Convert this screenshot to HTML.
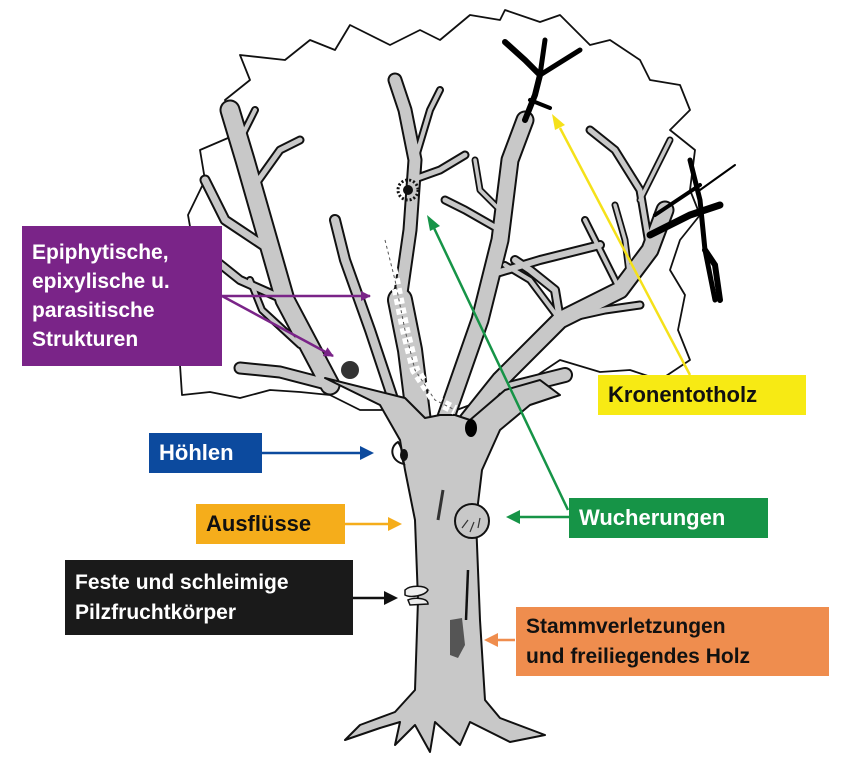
<!DOCTYPE html>
<html><head><meta charset="utf-8"><style>
body{margin:0;width:852px;height:763px;background:#fff;overflow:hidden;position:relative;font-family:"Liberation Sans",sans-serif}
.b{position:absolute;font-weight:bold;font-size:21px;line-height:26px;box-sizing:border-box;padding:0 10px;display:flex;flex-direction:column;justify-content:center;white-space:nowrap}
</style></head><body>
<svg width="852" height="763" style="position:absolute;left:0;top:0">
<defs>
<marker id="mp" markerWidth="10" markerHeight="10" refX="9" refY="5" orient="auto" markerUnits="userSpaceOnUse" viewBox="0 0 10 10"><path d="M0,0L10,5L0,10z" fill="#7a2488"/></marker>
</defs>
<path d="M182,395 L180,365 L188,330 L178,290 L195,255 L188,215 L205,180 L200,150 L235,135 L225,100 L250,80 L240,55 L285,60 L310,40 L335,50 L350,25 L390,45 L420,30 L440,40 L470,15 L500,20 L505,10 L540,22 L560,15 L590,45 L610,40 L640,60 L650,80 L680,85 L690,110 L670,130 L695,150 L690,190 L700,215 L680,240 L670,270 L685,295 L678,330 L690,360 L660,380 L630,370 L600,372 L560,360 L530,380 L500,400 L470,405 L430,420 L390,410 L360,410 L330,395 L300,392 L270,390 L240,398 L210,392 Z" fill="#fff" stroke="#111" stroke-width="1.8" stroke-linejoin="round"/>
<g fill="none" stroke-linecap="round" stroke-linejoin="round" stroke="#111">
<path d="M330,385 L285,300 L265,230 L245,160 L230,110" stroke-width="21"/>
<path d="M270,250 L225,220 L205,180" stroke-width="11"/>
<path d="M285,300 L240,280 L215,260" stroke-width="10"/>
<path d="M255,185 L280,150 L300,140" stroke-width="9"/>
<path d="M240,140 L255,110" stroke-width="8"/>
<path d="M330,385 L280,372 L240,368" stroke-width="13"/>
<path d="M300,345 L262,310 L250,280" stroke-width="8"/>
<path d="M395,405 L370,330 L345,260 L335,220" stroke-width="12"/>
<path d="M400,300 L410,230 L415,160 L405,110 L395,80" stroke-width="15"/>
<path d="M412,180 L440,170 L465,155" stroke-width="9"/>
<path d="M415,160 L430,110 L440,90" stroke-width="8"/>
<path d="M420,430 L410,350 L400,300" stroke-width="26"/>
<path d="M445,420 L480,320 L500,240 L510,160 L525,120" stroke-width="19"/>
<path d="M490,275 L540,260 L600,245" stroke-width="10"/>
<path d="M500,230 L465,210 L445,200" stroke-width="9"/>
<path d="M500,210 L480,190 L475,160" stroke-width="7"/>
<path d="M460,430 L500,380 L560,320 L620,290 L650,250 L665,210" stroke-width="19"/>
<path d="M560,320 L555,290 L530,270 L515,260" stroke-width="10"/>
<path d="M560,320 L605,310 L640,305" stroke-width="9"/>
<path d="M560,320 L530,280 L505,265" stroke-width="8"/>
<path d="M620,290 L600,250 L585,220" stroke-width="8"/>
<path d="M630,280 L625,240 L615,205" stroke-width="7"/>
<path d="M650,250 L640,190 L615,150 L590,130" stroke-width="9"/>
<path d="M640,200 L660,160 L670,140" stroke-width="7"/>
<path d="M505,390 L545,380 L565,375" stroke-width="16"/>
</g>
<g fill="none" stroke="#c8c8c8" stroke-linecap="round" stroke-linejoin="round">
<path d="M330,385 L285,300 L265,230 L245,160 L230,110" stroke-width="17"/>
<path d="M270,250 L225,220 L205,180" stroke-width="7"/>
<path d="M285,300 L240,280 L215,260" stroke-width="6"/>
<path d="M255,185 L280,150 L300,140" stroke-width="5"/>
<path d="M240,140 L255,110" stroke-width="4"/>
<path d="M330,385 L280,372 L240,368" stroke-width="9"/>
<path d="M300,345 L262,310 L250,280" stroke-width="4"/>
<path d="M395,405 L370,330 L345,260 L335,220" stroke-width="8"/>
<path d="M400,300 L410,230 L415,160 L405,110 L395,80" stroke-width="11"/>
<path d="M412,180 L440,170 L465,155" stroke-width="5"/>
<path d="M415,160 L430,110 L440,90" stroke-width="4"/>
<path d="M420,430 L410,350 L400,300" stroke-width="22"/>
<path d="M445,420 L480,320 L500,240 L510,160 L525,120" stroke-width="15"/>
<path d="M490,275 L540,260 L600,245" stroke-width="6"/>
<path d="M500,230 L465,210 L445,200" stroke-width="5"/>
<path d="M500,210 L480,190 L475,160" stroke-width="3.5"/>
<path d="M460,430 L500,380 L560,320 L620,290 L650,250 L665,210" stroke-width="15"/>
<path d="M560,320 L555,290 L530,270 L515,260" stroke-width="6"/>
<path d="M560,320 L605,310 L640,305" stroke-width="5"/>
<path d="M560,320 L530,280 L505,265" stroke-width="4"/>
<path d="M620,290 L600,250 L585,220" stroke-width="4"/>
<path d="M630,280 L625,240 L615,205" stroke-width="3.5"/>
<path d="M650,250 L640,190 L615,150 L590,130" stroke-width="5"/>
<path d="M640,200 L660,160 L670,140" stroke-width="3.5"/>
<path d="M505,390 L545,380 L565,375" stroke-width="12"/>
</g>
<path d="M325,378 L380,405 L400,440 L405,470 L415,520 L418,600 L415,690 L395,712 L360,725 L345,740 L380,728 L400,722 L395,745 L415,725 L430,752 L435,722 L460,745 L470,722 L510,742 L545,735 L500,718 L485,700 L480,620 L476,520 L482,470 L500,430 L530,405 L560,395 L540,380 L505,390 L470,420 L455,415 L440,415 L425,418 L405,398 Z" fill="#c8c8c8" stroke="#111" stroke-width="2" stroke-linejoin="round"/>
<g stroke="#000" fill="none" stroke-linecap="round">
<path d="M505,42 L525,60 L540,75 L535,95 L525,120" stroke-width="6"/>
<path d="M545,40 L540,75 L580,50" stroke-width="5"/>
<path d="M530,100 L550,108" stroke-width="4"/>
<path d="M650,235 L690,215 L720,205" stroke-width="7"/>
<path d="M690,160 L700,200 L705,250 L715,300" stroke-width="5"/>
<path d="M700,190 L735,165" stroke-width="2"/>
<path d="M705,250 L715,265 L720,300" stroke-width="6"/>
<path d="M655,215 L700,185" stroke-width="4"/>
</g>
<ellipse cx="471" cy="428" rx="6" ry="9" fill="#000"/>
<path d="M398,442 C388,448 392,462 404,464 C400,455 404,450 398,442Z" fill="#fff" stroke="#111" stroke-width="2"/>
<ellipse cx="404" cy="455" rx="4" ry="6" fill="#111"/>
<circle cx="472" cy="521" r="17" fill="#c8c8c8" stroke="#111" stroke-width="2"/>
<path d="M462,528 l6,-8 M470,532 l4,-10 M478,528 l2,-10" stroke="#333" stroke-width="1.2"/>
<path d="M443,490 L438,520" stroke="#333" stroke-width="3"/>
<path d="M468,570 L466,620" stroke="#111" stroke-width="2.5"/>
<path d="M450,620 L462,618 L465,645 L458,658 L450,655 Z" fill="#555"/>
<path d="M405,590 C410,585 425,585 428,590 C425,596 410,598 405,595Z M408,600 C415,597 428,598 428,604 L410,605Z" fill="#eee" stroke="#111" stroke-width="1.5"/>
<circle cx="350" cy="370" r="9" fill="#333"/>
<circle cx="408" cy="190" r="10" fill="none" stroke="#111" stroke-width="3" stroke-dasharray="2 2"/>
<circle cx="408" cy="190" r="5" fill="#111"/>
<path d="M385,240 L395,280 L405,330 L415,370 L435,400 L455,410" stroke="#fff" stroke-width="10" fill="none" stroke-dasharray="6 4"/>
<path d="M385,240 L395,280 L405,330 L415,370 L435,400 L455,410" stroke="#555" stroke-width="1" fill="none" stroke-dasharray="3 3"/>
<g stroke-width="2.5" fill="none">
<line x1="222" y1="296" x2="370" y2="296" stroke="#7a2488" marker-end="url(#mp)"/>
<line x1="222" y1="296" x2="333" y2="356" stroke="#7a2488" marker-end="url(#mp)"/>
</g>
<line x1="262" y1="453" x2="362" y2="453" stroke="#0c4a9e" stroke-width="2.5"/><path d="M360,446 L374,453 L360,460z" fill="#0c4a9e"/>
<line x1="345" y1="524" x2="390" y2="524" stroke="#f5ad1b" stroke-width="2.5"/><path d="M388,517 L402,524 L388,531z" fill="#f5ad1b"/>
<line x1="353" y1="598" x2="386" y2="598" stroke="#111" stroke-width="2.5"/><path d="M384,591 L398,598 L384,605z" fill="#111"/>
<line x1="569" y1="517" x2="518" y2="517" stroke="#169447" stroke-width="2.5"/><path d="M520,510 L506,517 L520,524z" fill="#169447"/>
<line x1="568" y1="510" x2="434" y2="228" stroke="#169447" stroke-width="2.5"/><path d="M427,215 L440,226 L430,231z" fill="#169447"/>
<line x1="690" y1="375" x2="560" y2="128" stroke="#f5e11a" stroke-width="2.5"/><path d="M552,114 L565,125 L555,130z" fill="#f5e11a"/>
<line x1="515" y1="640" x2="496" y2="640" stroke="#ef8d4e" stroke-width="2.5"/><path d="M498,633 L484,640 L498,647z" fill="#ef8d4e"/>
</svg>
<div class="b" style="left:22px;top:226px;width:200px;height:140px;background:#7a2488;color:#fff;font-size:21px;line-height:29px">Epiphytische,<br>epixylische u.<br>parasitische<br>Strukturen</div>
<div class="b" style="left:149px;top:433px;width:113px;height:40px;background:#0c4a9e;color:#fff;font-size:22px">Höhlen</div>
<div class="b" style="left:196px;top:504px;width:149px;height:40px;background:#f5ad1b;color:#111;font-size:22px">Ausflüsse</div>
<div class="b" style="left:65px;top:560px;width:288px;height:75px;background:#1a1a1a;color:#fff;line-height:30px">Feste und schleimige<br>Pilzfruchtkörper</div>
<div class="b" style="left:598px;top:375px;width:208px;height:40px;background:#f7ea14;color:#111;font-size:22px">Kronentotholz</div>
<div class="b" style="left:569px;top:498px;width:199px;height:40px;background:#169447;color:#fff;font-size:22px">Wucherungen</div>
<div class="b" style="left:516px;top:607px;width:313px;height:69px;background:#ef8d4e;color:#111;line-height:30px">Stammverletzungen<br>und freiliegendes Holz</div>
</body></html>
